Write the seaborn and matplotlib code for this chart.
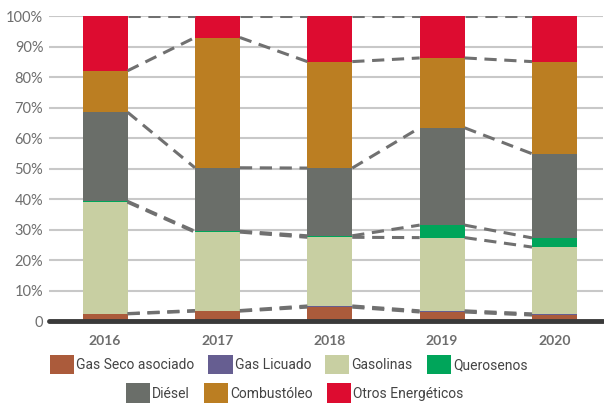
import numpy as np
import pandas as pd
import matplotlib
matplotlib.use("Agg")
import matplotlib.pyplot as plt
from matplotlib.patches import Patch
import seaborn as sns

# ---------------------------------------------------------------------------
# Data (shares in %)
# ---------------------------------------------------------------------------
years = ["2016", "2017", "2018", "2019", "2020"]
series = ["Gas Seco asociado", "Gas Licuado", "Gasolinas", "Querosenos",
          "Diésel", "Combustóleo", "Otros Energéticos"]
gas_seco = [2.4, 3.3, 4.6, 3.0, 2.0]
gas_licuado = [0.1, 0.2, 0.4, 0.4, 0.4]
gasolinas = [36.5, 25.7, 22.5, 24.0, 21.9]
querosenos = [0.3, 0.3, 0.5, 4.1, 3.0]
diesel = [29.2, 20.8, 22.2, 31.9, 27.6]
combustoleo = [13.6, 42.7, 34.9, 22.9, 30.2]
otros = [17.9, 7.0, 14.9, 13.7, 14.9]

colors = ["#AB5B3B", "#665E91", "#C8CFA2", "#00A55A",
          "#6A6E69", "#BB7E22", "#DD0C30"]

values = [gas_seco, gas_licuado, gasolinas, querosenos, diesel, combustoleo, otros]
cum = np.cumsum(np.array(values), axis=0)

sns.set_theme(style="white")
plt.rcParams["font.family"] = ["Lato", "DejaVu Sans"]

fig = plt.figure(figsize=(6.04, 4.04), dpi=100)
ax = fig.add_axes([0.081, 0.205, 0.917, 0.755])

BAR_W = 0.40
for i in range(len(series) - 1, -1, -1):
    df = pd.DataFrame({"year": years, "top": cum[i]})
    sns.barplot(data=df, x="year", y="top", color=colors[i], width=BAR_W,
                saturation=1, linewidth=0, ax=ax, zorder=3)

# series lines (dashed connectors between bar tops)
for i in range(len(series)):
    for j in range(len(years) - 1):
        ax.plot([j + BAR_W / 2, j + 1 - BAR_W / 2], [cum[i][j], cum[i][j + 1]],
                color="#707070", lw=2.2, dashes=(4, 2.5), zorder=4,
                dash_capstyle="butt")

ax.set_ylim(0, 100)
ax.set_xlim(-0.5, 4.43)
ax.set_yticks(np.arange(0, 101, 10))
ax.set_yticklabels(["0"] + [f"{v}%" for v in range(10, 101, 10)])
for v in range(10, 101, 10):
    ax.axhline(v, color="#C8C8C8", lw=1.5, zorder=1)
ax.axhline(0, color="#3A3A3A", lw=3.5, zorder=5, clip_on=False)

for s in ax.spines.values():
    s.set_visible(False)
ax.tick_params(axis="y", length=0, pad=4, labelsize=10.5, labelcolor="#6E6E6E")
ax.tick_params(axis="x", length=0, pad=10, labelsize=10, labelcolor="#6E6E6E")
for lab in ax.get_xticklabels():
    lab.set_fontweight("bold")
ax.set_xlabel("")
ax.set_ylabel("")

handles = [Patch(facecolor=c, edgecolor="none") for c in colors]
leg_kw = dict(frameon=False, handlelength=1.75, handleheight=1.75,
              handletextpad=0.15, columnspacing=1.0, labelcolor="#444444",
              borderaxespad=0,
              prop={"family": ["Roboto", "DejaVu Sans"], "size": 10})
fig.legend(handles[:4], series[:4], ncol=4, loc="center",
           bbox_to_anchor=(0.478, 0.097), **leg_kw)
fig.legend(handles[4:], series[4:], ncol=3, loc="center",
           bbox_to_anchor=(0.488, 0.027), **leg_kw)

fig.savefig("out.png", dpi=100)
